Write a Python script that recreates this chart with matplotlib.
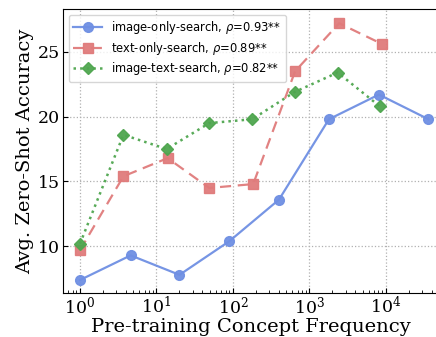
import matplotlib
matplotlib.use("Agg")
import matplotlib.pyplot as plt

# values
img_x = [1, 4.6, 20, 90, 400, 1800, 8100, 36000]
img_y = [7.4, 9.3, 7.8, 10.4, 13.6, 19.8, 21.7, 19.8]

txt_x = [1, 3.7, 14, 49, 184, 650, 2450, 8900]
txt_y = [9.7, 15.4, 16.8, 14.5, 14.8, 23.5, 27.2, 25.6]

it_x = [1, 3.7, 13.6, 49, 179, 641, 2340, 8300]
it_y = [10.2, 18.6, 17.5, 19.5, 19.8, 21.9, 23.4, 20.8]

labels = [
    r"image-only-search, $\rho$=0.93**",
    r"text-only-search, $\rho$=0.89**",
    r"image-text-search, $\rho$=0.82**",
]

COLORS = ["#6f8fe3", "#e07b7b", "#4fa64f"]

plt.rcParams.update({
    "font.family": "DejaVu Serif",
    "mathtext.fontset": "dejavusans",
    "xtick.direction": "in",
    "ytick.direction": "in",
})

fig = plt.figure(figsize=(4.36, 3.37), dpi=100)
ax = fig.add_axes([63 / 436, 44 / 337, 375 / 436, 284 / 337])

ax.plot(img_x, img_y, "-o", color=COLORS[0], lw=1.6, ms=7, alpha=0.95, label=labels[0])
ax.plot(txt_x, txt_y, "--s", color=COLORS[1], lw=1.6, ms=7, alpha=0.95,
        dashes=(5, 3), label=labels[1])
ax.plot(it_x, it_y, ":D", color=COLORS[2], lw=1.8, ms=6, alpha=0.95, label=labels[2])

ax.set_xscale("log")
ax.set_xlim(0.6, 4.8e4)
ax.set_ylim(6.4, 28.3)
ax.set_yticks([10, 15, 20, 25])
ax.grid(True, linestyle=":", color="#b0b0b0", linewidth=0.9)
ax.tick_params(labelsize=12.5, pad=2)
ax.set_xlabel("Pre-training Concept Frequency", fontsize=14, labelpad=0)
ax.set_ylabel("Avg. Zero-Shot Accuracy", fontsize=14, labelpad=3)

leg = ax.legend(loc="upper left", prop={"family": "DejaVu Sans", "size": 8.3},
                handlelength=2.5, labelspacing=0.3, borderaxespad=0.5)

fig.savefig("out.png", dpi=100)
